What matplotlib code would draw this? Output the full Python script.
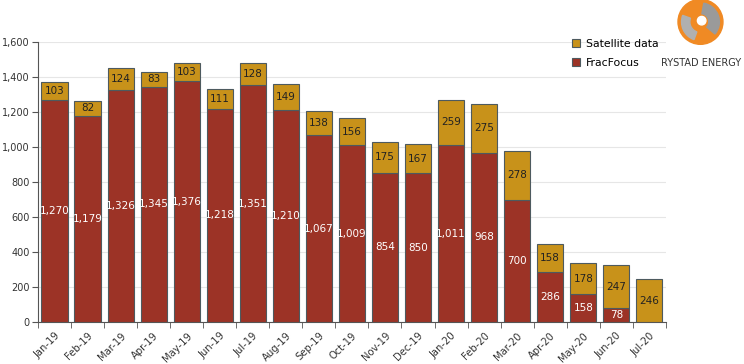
import matplotlib
matplotlib.use('Agg')
import matplotlib.pyplot as plt
from matplotlib.patches import Circle, Wedge
import numpy as np

months = ['Jan-19', 'Feb-19', 'Mar-19', 'Apr-19', 'May-19', 'Jun-19', 'Jul-19',
          'Aug-19', 'Sep-19', 'Oct-19', 'Nov-19', 'Dec-19', 'Jan-20', 'Feb-20',
          'Mar-20', 'Apr-20', 'May-20', 'Jun-20', 'Jul-20']
fracfocus = [1270, 1179, 1326, 1345, 1376, 1218, 1351, 1210, 1067, 1009,
             854, 850, 1011, 968, 700, 286, 158, 78, 0]
satellite = [103, 82, 124, 83, 103, 111, 128, 149, 138, 156,
             175, 167, 259, 275, 278, 158, 178, 247, 246]

red = '#9c3326'
gold = '#c8921a'
edge = '#4d5a5f'

fig = plt.figure(figsize=(7.44, 3.64), dpi=100)
ax = fig.add_axes([0.051, 0.115, 0.844, 0.77])

x = np.arange(len(months))
w = 0.79
b1 = ax.bar(x, fracfocus, w, color=red, edgecolor=edge, linewidth=0.8, label='FracFocus', zorder=3)
b2 = ax.bar(x, satellite, w, bottom=fracfocus, color=gold, edgecolor=edge, linewidth=0.8,
            label='Satellite data', zorder=3)

for i in range(len(months)):
    if fracfocus[i] > 0:
        ax.text(x[i], fracfocus[i] / 2, f'{fracfocus[i]:,}', ha='center', va='center',
                color='white', fontsize=7.5, zorder=4)
    ax.text(x[i], fracfocus[i] + satellite[i] / 2, f'{satellite[i]:,}', ha='center', va='center',
            color='#222222', fontsize=7.5, zorder=4)

ax.set_xlim(-0.5, len(months) - 0.5)
ax.set_ylim(0, 1600)
ax.set_yticks(range(0, 1601, 200))
ax.set_yticklabels([f'{v:,}' for v in range(0, 1601, 200)], fontsize=7, color='#333333')
ax.yaxis.grid(True, color='#e6e6e6', linewidth=0.8, zorder=0)
ax.set_xticks(x)
ax.set_xticklabels(months, rotation=45, ha='right', rotation_mode='anchor', fontsize=7.2, color='#333333')
ax.tick_params(axis='x', length=0, pad=6)
ax.set_xticks(np.arange(-0.5, len(months), 1), minor=True)
ax.tick_params(axis='x', which='minor', length=4, color='#555555')
ax.tick_params(axis='y', length=4, color='#555555', pad=2)
for s in ['top', 'right']:
    ax.spines[s].set_visible(False)
ax.spines['left'].set_color('#555555')
ax.spines['bottom'].set_color('#555555')

ax.legend(handles=[b2, b1], loc='upper left', bbox_to_anchor=(0.835, 1.045), frameon=False,
          fontsize=7.8, handlelength=0.7, handleheight=0.7, handletextpad=0.6, labelspacing=0.8)

# logo
lax = fig.add_axes([0.909, 0.875, 0.065, 0.13])
lax.set_xlim(-1, 1)
lax.set_ylim(-1, 1)
lax.set_aspect('equal')
lax.axis('off')
lax.add_patch(Circle((0, 0), 0.95, color='#f08a24'))
lax.add_patch(Wedge((0, 0), 0.8, -40, 80, width=0.45, color='#9a9a9a'))
lax.add_patch(Wedge((0, 0), 0.8, 160, 250, width=0.35, color='#b0b0b0'))
lax.add_patch(Circle((0.05, 0.05), 0.18, color='white'))
fig.text(0.942, 1 - 63 / 364, 'RYSTAD ENERGY', ha='center', va='center', fontsize=7, color='#333333')

plt.savefig('out.png', dpi=100)
